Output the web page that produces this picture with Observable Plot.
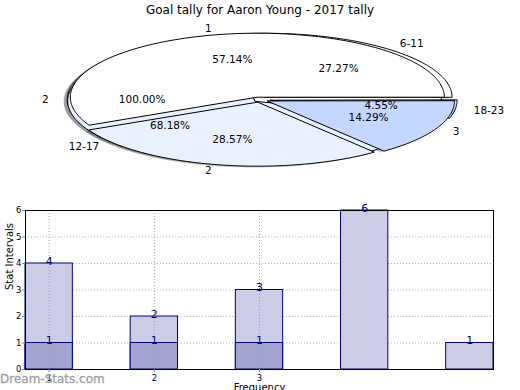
<!DOCTYPE html>
<html><head><meta charset="utf-8">
<script src="https://cdn.jsdelivr.net/npm/d3@7"></script>
<script src="https://cdn.jsdelivr.net/npm/@observablehq/plot@0.6"></script>
<style>
body{margin:0;background:#fff;font-family:"DejaVu Sans",sans-serif;}
#wrap{position:relative;width:520px;height:390px;overflow:hidden;background:#fff;}
#title{height:20px;line-height:20px;text-align:center;font-size:12px;color:#000;}
#wm{position:absolute;left:0;top:372px;font-size:12px;font-weight:normal;color:#a0a0a0;white-space:nowrap;-webkit-text-stroke:0.3px #a0a0a0;}
svg{display:block;}
</style></head><body>
<div id="wrap">
  <div id="title">Goal tally for Aaron Young - 2017 tally</div>
  <div id="pie"></div>
  <div id="bar"></div>
  <div id="wm">Dream-Stats.com</div>
</div>
<script>
// ---- Pie data (three overlaid pies) ----
const pie1Labels = ["1", "2", "3"];
const pie1Values = [4, 2, 1];
const pie2Labels = ["6-11", "12-17", "18-23"];
const pie2Values = [6, 15, 1];
const pie3Labels = ["2"];
const pie3Values = [1];

// ---- Bar data ----
const barPositions = [1, 2, 3, 4, 5];
const barTotals = [4, 2, 3, 6, 1];
const barLower = [1, 1, 1, null, null];
const xTickPositions = [1, 2, 3];
const xTickLabels = ["1", "2", "3"];

// ---- styles ----
const sliceColors = ["#ffffff", "#e9f1ff", "#c3d7ff"];
const pie1Explode = [0.04, 0.04, 0.05];
const pie2Explode = [0.05, 0.03, 0.06];
const pie3Explode = [0.025];

const pies = [
  {labels: pie3Labels, values: pie3Values, explode: pie3Explode},
  {labels: pie2Labels, values: pie2Values, explode: pie2Explode},
  {labels: pie1Labels, values: pie1Values, explode: pie1Explode}
];

const R = Math.PI / 180;
const wedgePts = [], shadowPts = [], nameLbl = [], pctLbl = [];
pies.forEach((p, pi) => {
  const total = d3.sum(p.values);
  let a = 0;
  p.values.forEach((v, i) => {
    const a0 = a, a1 = a + 360 * v / total; a = a1;
    const mid = (a0 + a1) / 2;
    const cx = Math.cos(mid * R), cy = Math.sin(mid * R);
    const e = p.explode[i];
    const ox = e * cx, oy = e * cy;
    const id = pi + "-" + i;
    const pts = [];
    if (a1 - a0 < 359.9) pts.push([ox, oy]);
    const n = Math.max(2, Math.ceil(a1 - a0));
    for (let k = 0; k <= n; k++) {
      const t = (a0 + (a1 - a0) * k / n) * R;
      pts.push([ox + Math.cos(t), oy + Math.sin(t)]);
    }
    pts.forEach(([x, y]) => {
      wedgePts.push({id, x, y, fill: sliceColors[i]});
      shadowPts.push({id, x: x - 0.02, y: y - 0.02});
    });
    nameLbl.push({x: ox + 1.1 * cx, y: oy + 1.1 * cy, t: p.labels[i]});
    pctLbl.push({x: ox + 0.6 * cx, y: oy + 0.6 * cy, t: (100 * v / total).toFixed(2) + "%"});
  });
});

const pie = Plot.plot({
  width: 520, height: 165,
  marginTop: 0, marginBottom: 0, marginLeft: 0, marginRight: 0,
  x: {domain: [-1, 1], range: [71.5, 445.5], axis: null},
  y: {domain: [-1, 1], range: [143.2, 15.2], axis: null},
  color: {type: "identity"},
  style: {fontFamily: "DejaVu Sans", fontSize: "10.5px", background: "white", overflow: "visible"},
  marks: [
    Plot.line(shadowPts, {x: "x", y: "y", z: "id", fill: "#000", fillOpacity: 0.22, stroke: "none", curve: "linear-closed"}),
    Plot.line(wedgePts, {x: "x", y: "y", z: "id", fill: "fill", stroke: "black", strokeWidth: 1, curve: "linear-closed"}),
    Plot.text(nameLbl.filter(d => d.x > 0), {x: "x", y: "y", text: "t", textAnchor: "start", fill: "black"}),
    Plot.text(nameLbl.filter(d => d.x <= 0), {x: "x", y: "y", text: "t", textAnchor: "end", fill: "black"}),
    Plot.text(pctLbl, {x: "x", y: "y", text: "t", textAnchor: "middle", fill: "black"})
  ]
});
document.getElementById("pie").appendChild(pie);

const barsA = barPositions.map((x, i) => ({x, v: barTotals[i]}));
const barsB = barPositions.map((x, i) => ({x, v: barLower[i]})).filter(d => d.v != null);
const hw = 0.225;

const bar = Plot.plot({
  width: 520, height: 205,
  marginTop: 25, marginBottom: 21, marginLeft: 25, marginRight: 27,
  x: {domain: [1 - hw, 5 + hw]},
  y: {domain: [0, 6]},
  style: {fontFamily: "DejaVu Sans", fontSize: "8.5px", background: "white", overflow: "visible"},
  marks: [
    Plot.gridY([1, 2, 3, 4, 5], {stroke: "#b0b0b0", strokeOpacity: 1, strokeDasharray: "1,2"}),
    Plot.rect(barsA, {x1: d => d.x - hw, x2: d => d.x + hw, y1: 0, y2: "v", fill: "#ccccE5", stroke: "#000080", strokeWidth: 1}),
    Plot.rect(barsB, {x1: d => d.x - hw, x2: d => d.x + hw, y1: 0, y2: "v", fill: "#a4a4d1", stroke: "#000080", strokeWidth: 1}),
    Plot.gridX(xTickPositions, {stroke: "#a0a0a0", strokeOpacity: 1, strokeDasharray: "1,2"}),
    Plot.frame({stroke: "black", strokeWidth: 1}),
    Plot.axisY([0, 1, 2, 3, 4, 5, 6], {tickSize: 3, tickPadding: 1, label: null, stroke: "#888", fill: "black"}),
    Plot.axisX(xTickPositions, {tickSize: 3, tickPadding: 2, tickFormat: d => xTickLabels[xTickPositions.indexOf(d)], label: null, stroke: "#888", fill: "black"}),
    Plot.text(barsA, {x: "x", y: "v", text: d => String(d.v), lineAnchor: "bottom", dy: 1, fill: "#000080", fontSize: 11}),
    Plot.text(barsB, {x: "x", y: "v", text: d => String(d.v), lineAnchor: "bottom", dy: 1, fill: "#000080", fontSize: 11}),
    Plot.text(["Stat Intervals"], {frameAnchor: "left", text: d => d, rotate: -90, dx: -16, fontSize: 10, fill: "black"}),
    Plot.text(["Frequency"], {frameAnchor: "bottom", text: d => d, lineAnchor: "top", dy: 14, fontSize: 10, fill: "black"})
  ]
});
document.getElementById("bar").appendChild(bar);
</script>
</body></html>
